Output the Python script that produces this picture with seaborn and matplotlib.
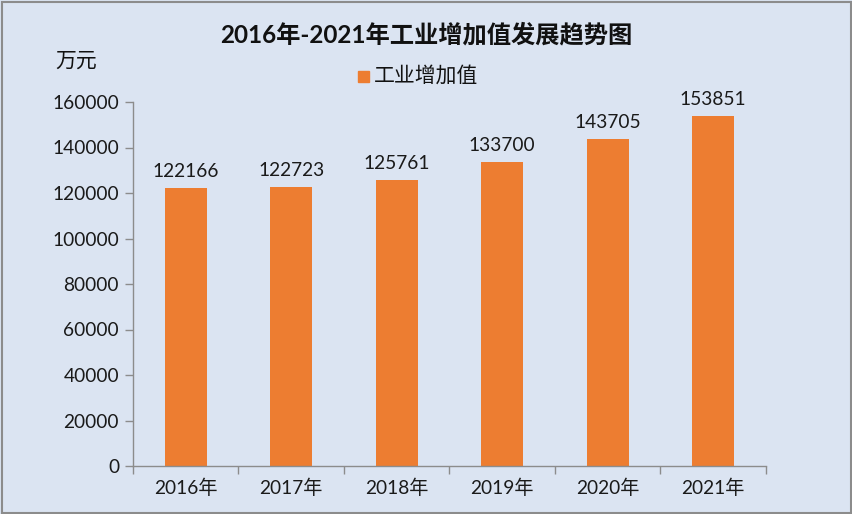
import matplotlib
matplotlib.use("Agg")
import matplotlib.pyplot as plt
import seaborn as sns
import pandas as pd
from matplotlib.patches import Rectangle

# ======================================
# DATA
# ======================================
years = ["2016年", "2017年", "2018年", "2019年", "2020年", "2021年"]
values = [122166, 122723, 125761, 133700, 143705, 153851]
series_name = "工业增加值"

BG = "#DBE4F2"
BAR = "#ED7D31"
AXIS = "#8C8C8C"
FS = 13.8

sns.set_theme(style="white")
plt.rcParams["font.family"] = ["Lato", "Noto Sans CJK SC", "DejaVu Sans"]

df = pd.DataFrame({"year": years, "value": values, "series": series_name})

fig = plt.figure(figsize=(8.53, 5.14), dpi=100)
fig.patch.set_facecolor(BG)
ax = fig.add_axes([133 / 853, 48 / 514, 633 / 853, 364 / 514])
ax.set_facecolor(BG)

sns.barplot(data=df, x="year", y="value", color=BAR, width=0.4,
            saturation=1, linewidth=0, ax=ax)

for i, v in enumerate(values):
    ax.text(i, v + 3500, str(v), ha="center", va="bottom",
            fontsize=FS, color="#1a1a1a")

ax.set_xlim(-0.5, len(years) - 0.5)
ax.set_ylim(0, 160000)
ax.set_yticks(range(0, 160001, 20000))
ax.set_xlabel("")
ax.set_ylabel("")

for side in ["top", "right"]:
    ax.spines[side].set_visible(False)
for side in ["left", "bottom"]:
    ax.spines[side].set_color(AXIS)
    ax.spines[side].set_linewidth(1.0)

ax.tick_params(axis="y", direction="out", length=6, color=AXIS, width=1,
               labelsize=FS, labelcolor="#1a1a1a", pad=4, left=True)
ax.tick_params(axis="x", which="major", length=0, labelsize=FS,
               labelcolor="#1a1a1a", pad=9)
ax.set_xticks([i + 0.5 for i in range(-1, len(years))], minor=True)
ax.tick_params(axis="x", which="minor", direction="out", length=6,
               color=AXIS, width=1, bottom=True)

# title, unit and legend
fig.text(0.5, 1 - 35 / 514, "2016年-2021年工业增加值发展趋势图", ha="center",
         va="center", fontsize=17.5, fontweight="bold", color="#111111")
fig.text(76 / 853, 1 - 61 / 514, "万元", ha="center", va="center",
         fontsize=15, color="#111111")
fig.patches.append(Rectangle((358 / 853, 1 - 82 / 514), 11 / 853, 11 / 514,
                             transform=fig.transFigure, color=BAR))
fig.text(374 / 853, 1 - 76 / 514, series_name, ha="left", va="center",
         fontsize=15, color="#111111")

# outer border
fig.patches.append(Rectangle((0.002, 0.002), 0.996, 0.994,
                             transform=fig.transFigure, fill=False,
                             edgecolor=AXIS, linewidth=1.5))

fig.savefig("out.png", dpi=100, facecolor=BG)
